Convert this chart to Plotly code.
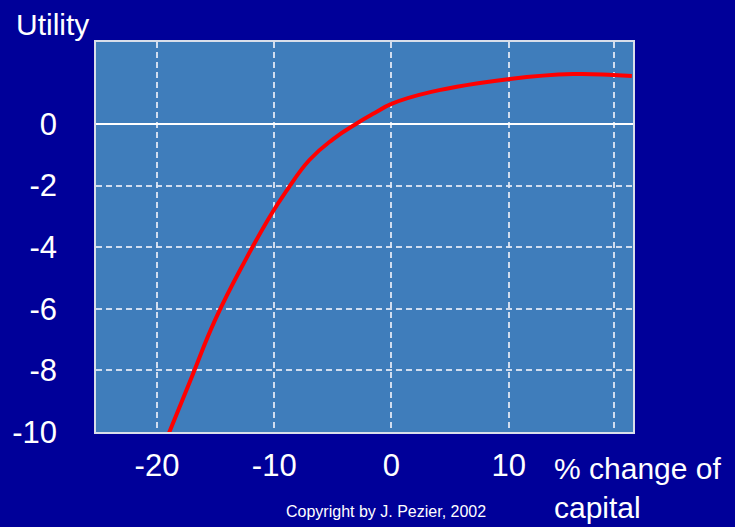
import plotly.graph_objects as go

# Data
capital_change = [-19.1, -17.1, -15.0, -12.4, -10.2, -9.0, -7.0, -5.0, -2.9, -1.4, 0.0, 3.4, 10.1, 15.5, 18.9, 20.5]
utility = [-10.15, -8.28, -6.33, -4.38, -2.9, -2.2, -1.17, -0.5, 0.03, 0.36, 0.65, 1.04, 1.46, 1.62, 1.59, 1.56]

x_grid_vals = [-20, -10, 0, 10, 19]
x_tick_text = ["-20", "-10", "0", "10", ""]
y_tick_vals = [0, -2, -4, -6, -8, -10]
y_tick_text = ["0", "-2", "-4", "-6", "-8", "-10"]

BG = "#000099"
PLOT_BG = "#3F7DBB"
GRID = "rgba(225,232,245,0.9)"
FONT = "Liberation Sans, Arial, sans-serif"

fig = go.Figure()
fig.add_trace(go.Scatter(
    x=capital_change, y=utility, mode="lines",
    line=dict(color="#FF0000", width=4, shape="spline", smoothing=1.3),
    hoverinfo="skip", showlegend=False,
))

fig.update_layout(
    width=735, height=527,
    margin=dict(l=93, r=102, t=42, b=95),
    paper_bgcolor=BG, plot_bgcolor=PLOT_BG,
    font=dict(family=FONT, color="white", size=30),
    xaxis=dict(
        range=[-25.2, 20.6], tickvals=x_grid_vals, ticktext=x_tick_text,
        showgrid=True, gridcolor=GRID, gridwidth=1.5, griddash="6px,4px",
        zeroline=False, showline=True, mirror=True, linecolor="#D8DEEA", linewidth=1.5,
        ticks="outside", ticklen=5, tickcolor="rgba(0,0,0,0)",
        tickfont=dict(size=31, color="white", family=FONT), fixedrange=True,
    ),
    yaxis=dict(
        range=[-10, 2.66], tickvals=y_tick_vals, ticktext=y_tick_text,
        showgrid=True, gridcolor=GRID, gridwidth=1.5, griddash="6px,4px",
        zeroline=True, zerolinecolor="white", zerolinewidth=1.5,
        showline=True, mirror=True, linecolor="#D8DEEA", linewidth=1.5,
        ticks="outside", ticklen=31, tickcolor="rgba(0,0,0,0)",
        tickfont=dict(size=31, color="white", family=FONT), fixedrange=True,
    ),
    annotations=[
        dict(text="Utility", xref="paper", yref="paper", x=-0.152, y=1.046,
             xanchor="left", yanchor="middle", showarrow=False,
             font=dict(size=30, color="white", family=FONT)),
        dict(text="% change of<br>capital", xref="paper", yref="paper", x=0.85, y=-0.046,
             xanchor="left", yanchor="top", align="left", showarrow=False,
             font=dict(size=30, color="white", family=FONT)),
        dict(text="Copyright by J. Pezier, 2002", xref="paper", yref="paper", x=0.54, y=-0.205,
             xanchor="center", yanchor="middle", showarrow=False,
             font=dict(size=16, color="white", family=FONT)),
    ],
)

fig.write_html(
    "out.html",
    config={"displayModeBar": False},
    post_script="document.body.style.margin='0';document.body.style.background='#000099';",
)
